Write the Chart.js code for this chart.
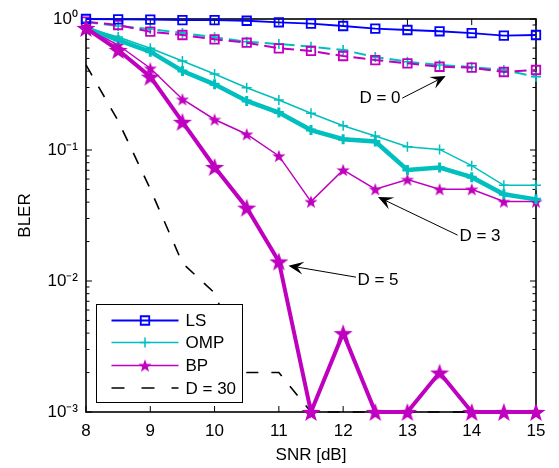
<!DOCTYPE html>
<html><head><meta charset="utf-8">
<script src="https://cdn.jsdelivr.net/npm/chart.js@4/dist/chart.umd.min.js"></script>
<style>html,body{margin:0;padding:0;background:#fff;}canvas{display:block;}</style>
</head><body>
<canvas id="c" width="559" height="468"></canvas>
<script>
// ---------- data ----------
const snr = [8, 8.5, 9, 9.5, 10, 10.5, 11, 11.5, 12, 12.5, 13, 13.5, 14, 14.5, 15];
const lsBler  = [1.0, 0.995, 0.988, 0.982, 0.982, 0.97, 0.944, 0.921, 0.884, 0.843, 0.824, 0.806, 0.78, 0.746, 0.755];
const ompD0   = [0.949, 0.884, 0.839, 0.782, 0.725, 0.671, 0.644, 0.615, 0.58, 0.513, 0.472, 0.446, 0.43, 0.408, 0.362];
const bpD0    = [0.954, 0.90, 0.80, 0.755, 0.70, 0.659, 0.597, 0.57, 0.522, 0.486, 0.459, 0.432, 0.425, 0.394, 0.408];
const ompD3   = [0.854, 0.729, 0.598, 0.478, 0.38, 0.299, 0.241, 0.191, 0.153, 0.128, 0.106, 0.101, 0.0759, 0.0537, 0.0537];
const bpD3    = [0.854, 0.633, 0.421, 0.244, 0.171, 0.132, 0.0901, 0.0404, 0.0705, 0.0502, 0.0596, 0.0502, 0.0502, 0.0404, 0.0404];
const ompD5   = [0.854, 0.691, 0.563, 0.401, 0.317, 0.237, 0.193, 0.142, 0.121, 0.116, 0.0705, 0.0734, 0.062, 0.0459, 0.042];
const bpD5    = [0.854, 0.58, 0.363, 0.164, 0.0742, 0.0363, 0.0141, 0.001, 0.004, 0.001, 0.001, 0.002, 0.001, 0.001, 0.001];
const d30     = [0.446, 0.167, 0.0504, 0.0137, 0.0081, 0.002, 0.002, 0.001, 0.001, 0.001, 0.001, 0.001, 0.001, 0.001, 0.001];
const xTicks = [8, 9, 10, 11, 12, 13, 14, 15];
const yDecades = [0.001, 0.01, 0.1, 1];
const yTickLabels = ['10\u207B\u00B3', '10\u207B\u00B2', '10\u207B\u00B9', '10\u2070'];
const legendLabels = ['LS', 'OMP', 'BP', 'D = 30'];
const annotLabels = ['D = 0', 'D = 3', 'D = 5'];

// ---------- styles ----------
const FONT = '"Liberation Sans", Arial, Helvetica, sans-serif';
const BLUE = '#0000ff', CYAN = '#00bfbf', MAGENTA = '#bf00bf';
function makeStar(size, color) {
  const c = document.createElement('canvas');
  c.width = size; c.height = size;
  const g = c.getContext('2d');
  g.fillStyle = color; g.beginPath();
  const cx = size / 2, cy = size / 2 + size * 0.05, R = size / 2, r = R * 0.4;
  for (let i = 0; i < 10; i++) {
    const a = -Math.PI / 2 + i * Math.PI / 5, rad = i % 2 ? r : R;
    g.lineTo(cx + rad * Math.cos(a), cy + rad * Math.sin(a));
  }
  g.closePath(); g.fill();
  return c;
}
const starSmall = makeStar(14, MAGENTA);
const starBig = makeStar(20, MAGENTA);
const NONE = 'rgba(0,0,0,0)';

const styleLS   = {borderColor: BLUE, borderWidth: 1.8, pointStyle: 'rect', pointRadius: 6, pointBorderColor: BLUE, pointBackgroundColor: NONE, pointBorderWidth: 1.8};
const styleOMP0 = {borderColor: CYAN, borderWidth: 2, borderDash: [12, 6], pointStyle: 'cross', pointRadius: 5, pointBorderColor: CYAN, pointBorderWidth: 1.6};
const styleBP0  = {borderColor: MAGENTA, borderWidth: 2, borderDash: [12, 6], pointStyle: 'rect', pointRadius: 6, pointBorderColor: MAGENTA, pointBackgroundColor: NONE, pointBorderWidth: 1.8};
const styleOMP3 = {borderColor: CYAN, borderWidth: 1.5, pointStyle: 'cross', pointRadius: 5, pointBorderColor: CYAN, pointBorderWidth: 1.5};
const styleBP3  = {borderColor: MAGENTA, borderWidth: 1.5, pointStyle: starSmall, pointRadius: 7};
const styleOMP5 = {borderColor: CYAN, borderWidth: 4.5, pointStyle: 'cross', pointRadius: 5, pointBorderColor: CYAN, pointBorderWidth: 3};
const styleBP5  = {borderColor: MAGENTA, borderWidth: 4, pointStyle: starBig, pointRadius: 10};
const styleD30  = {borderColor: '#000', borderWidth: 1.6, borderDash: [12, 13], pointRadius: 0};

function ds(label, arr, style) {
  return Object.assign({label, data: snr.map((x, i) => ({x, y: arr[i]})), clip: false, tension: 0, fill: false}, style);
}

// annotation positions in data coordinates
const annotations = [
  {text: annotLabels[0], tx: 12.573, ty: 0.249, fx: 12.92, fy: 0.249, hx: 13.595, hy: 0.367},
  {text: annotLabels[1], tx: 14.129, ty: 0.0221, fx: 13.78, fy: 0.0224, hx: 12.542, hy: 0.0438},
  {text: annotLabels[2], tx: 12.542, ty: 0.0102, fx: 12.20, fy: 0.0107, hx: 11.15, hy: 0.0131}
];

Chart.defaults.font.family = FONT;
Chart.defaults.font.size = 17;
Chart.defaults.color = '#000';

const framePlugin = {
  id: 'frame',
  beforeDatasetsDraw(chart) {
    const {ctx, chartArea: a, scales: {x, y}} = chart;
    ctx.save();
    ctx.strokeStyle = '#000';
    ctx.lineWidth = 1;
    const line = (x1, y1, x2, y2) => { ctx.beginPath(); ctx.moveTo(x1, y1); ctx.lineTo(x2, y2); ctx.stroke(); };
    x.ticks.forEach(t => {
      const px = x.getPixelForValue(t.value);
      line(px, a.bottom, px, a.bottom - 6);
      line(px, a.top, px, a.top + 6);
    });
    y.ticks.forEach(t => {
      const py = y.getPixelForValue(t.value);
      const major = yDecades.some(d => Math.abs(d - t.value) / d < 1e-6);
      const L = major ? 6 : 3.5;
      line(a.left, py, a.left + L, py);
      line(a.right, py, a.right - L, py);
    });
    ctx.lineWidth = 1.6;
    ctx.strokeRect(a.left, a.top, a.right - a.left, a.bottom - a.top);
    ctx.restore();
  },
  afterDatasetsDraw(chart) {
    const {ctx, chartArea: a, scales: {x, y}} = chart;
    ctx.save();
    // annotations
    ctx.font = '17px ' + FONT;
    ctx.fillStyle = '#000'; ctx.strokeStyle = '#000';
    ctx.textAlign = 'center'; ctx.textBaseline = 'middle';
    annotations.forEach(an => {
      ctx.fillText(an.text, x.getPixelForValue(an.tx), y.getPixelForValue(an.ty));
      const fx = x.getPixelForValue(an.fx), fy = y.getPixelForValue(an.fy);
      const hx = x.getPixelForValue(an.hx), hy = y.getPixelForValue(an.hy);
      const dx = hx - fx, dy = hy - fy, len = Math.hypot(dx, dy);
      const ux = dx / len, uy = dy / len, nx = -uy, ny = ux;
      const L = 15, W = 6.5;
      ctx.lineWidth = 1;
      ctx.beginPath(); ctx.moveTo(fx, fy); ctx.lineTo(hx - ux * L * 0.6, hy - uy * L * 0.6); ctx.stroke();
      ctx.beginPath();
      ctx.moveTo(hx, hy);
      ctx.lineTo(hx - ux * L + nx * W, hy - uy * L + ny * W);
      ctx.lineTo(hx - ux * L * 0.6, hy - uy * L * 0.6);
      ctx.lineTo(hx - ux * L - nx * W, hy - uy * L - ny * W);
      ctx.closePath(); ctx.fill();
    });
    // legend
    const bx = a.left + 10.5, bw = 146, bh = 98, by = a.bottom - 9.5 - bh;
    ctx.fillStyle = '#fff';
    ctx.fillRect(bx, by, bw, bh);
    ctx.lineWidth = 1; ctx.strokeStyle = '#000';
    ctx.strokeRect(bx, by, bw, bh);
    const rows = [16, 38, 61, 83.5];
    const styles = [styleLS, styleOMP3, styleBP3, styleD30];
    const lx1 = bx + 15, lx2 = bx + 82, mx = (lx1 + lx2) / 2;
    styles.forEach((s, i) => {
      const ry = by + rows[i];
      ctx.save();
      ctx.strokeStyle = s.borderColor; ctx.lineWidth = s.borderWidth;
      ctx.setLineDash(s.borderDash ? [13, 17] : []);
      ctx.beginPath(); ctx.moveTo(lx1, ry); ctx.lineTo(lx2, ry); ctx.stroke();
      ctx.restore();
      if (s.pointRadius > 0) {
        ctx.save();
        ctx.strokeStyle = s.pointBorderColor || s.borderColor;
        ctx.fillStyle = s.pointBackgroundColor || NONE;
        ctx.lineWidth = s.pointBorderWidth || 1;
        Chart.helpers.drawPoint(ctx, {pointStyle: s.pointStyle, radius: s.pointRadius, rotation: 0, borderWidth: s.pointBorderWidth || 0}, mx, ry);
        ctx.restore();
      }
      ctx.fillStyle = '#000'; ctx.textAlign = 'left'; ctx.textBaseline = 'middle';
      ctx.font = '17px ' + FONT;
      ctx.fillText(legendLabels[i], bx + 89, ry + 1);
    });
    ctx.restore();
  }
};

new Chart(document.getElementById('c'), {
  type: 'line',
  data: {
    datasets: [
      ds('BP D=5', bpD5, styleBP5),
      ds('OMP D=5', ompD5, styleOMP5),
      ds('BP D=3', bpD3, styleBP3),
      ds('OMP D=3', ompD3, styleOMP3),
      ds('LS', lsBler, styleLS),
      ds('BP D=0', bpD0, styleBP0),
      ds('OMP D=0', ompD0, styleOMP0),
      ds('D = 30', d30, styleD30)
    ]
  },
  options: {
    responsive: false,
    animation: false,
    events: [],
    devicePixelRatio: 1,
    layout: {padding: {left: 0, right: 23, top: 19, bottom: 0}},
    plugins: {legend: {display: false}, tooltip: {enabled: false}},
    scales: {
      x: {
        type: 'linear', min: 8, max: 15,
        afterBuildTicks: s => { s.ticks = xTicks.map(v => ({value: v})); },
        afterFit: s => { s.height = 56; },
        ticks: {padding: 9, autoSkip: false, maxRotation: 0, callback: v => String(v), font: {size: 17}},
        grid: {display: false, drawTicks: false},
        border: {display: false},
        title: {display: true, text: 'SNR [dB]', font: {size: 17}, padding: {top: 0, bottom: 2}}
      },
      y: {
        type: 'logarithmic', min: 0.001, max: 1,
        afterBuildTicks: s => {
          const t = [];
          yDecades.forEach((d, i) => {
            t.push({value: d});
            if (i < yDecades.length - 1) for (let m = 2; m <= 9; m++) t.push({value: d * m});
          });
          s.ticks = t;
        },
        afterFit: s => { s.width = 86; },
        ticks: {
          padding: 8, autoSkip: false, font: {size: 17},
          callback: v => {
            const i = yDecades.findIndex(d => Math.abs(d - v) / d < 1e-6);
            return i >= 0 ? yTickLabels[i] : '';
          }
        },
        grid: {display: false, drawTicks: false},
        border: {display: false},
        title: {display: true, text: 'BLER', font: {size: 17}, padding: {top: 15, bottom: 0}}
      }
    }
  },
  plugins: [framePlugin]
});
</script>
</body></html>
